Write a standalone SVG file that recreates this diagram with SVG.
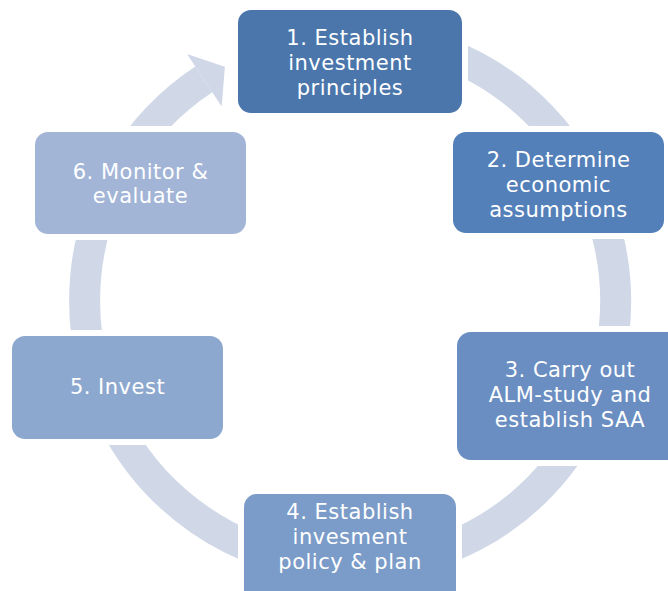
<svg xmlns="http://www.w3.org/2000/svg" width="668" height="591" viewBox="0 0 668 591">
<style>
.box{stroke:#ffffff;stroke-width:12;paint-order:stroke;}
.t{font-family:"DejaVu Sans",Verdana,sans-serif;font-size:21px;letter-spacing:0.5px;fill:#ffffff;text-anchor:middle;}
.ring{fill:none;stroke:#d0d8e8;stroke-width:31;}
</style>
<rect width="668" height="591" fill="#ffffff"/>
<g id="connectors">
<path class="ring" d="M303.9,39.5 A265.5,265.5 0 1 1 203.8,79.4"/>
<polygon points="187,53.9 224.9,66.8 221.7,106.5" fill="#d0d8e8"/>
</g>
<g id="node1">
<rect class="box" x="238" y="10" width="224" height="103" rx="13" fill="#4a76ac"/>
<text class="t" x="350" y="45">1. Establish</text>
<text class="t" x="350" y="70">investment</text>
<text class="t" x="350" y="95">principles</text>
</g>
<g id="node2">
<rect class="box" x="453" y="132" width="211" height="101" rx="13" fill="#5480b9"/>
<text class="t" x="558.5" y="166.5">2. Determine</text>
<text class="t" x="558.5" y="191.5">economic</text>
<text class="t" x="558.5" y="216.5">assumptions</text>
</g>
<g id="node3">
<rect class="box" x="457" y="332" width="230" height="128" rx="14" fill="#6a8ec1"/>
<text class="t" x="570" y="377">3. Carry out</text>
<text class="t" x="570" y="402">ALM-study and</text>
<text class="t" x="570" y="427">establish SAA</text>
</g>
<g id="node4">
<rect class="box" x="244" y="494" width="212" height="110" rx="13" fill="#7b9cc8"/>
<text class="t" x="350" y="519">4. Establish</text>
<text class="t" x="350" y="544">invesment</text>
<text class="t" x="350" y="569">policy &amp; plan</text>
</g>
<g id="node5">
<rect class="box" x="12" y="336" width="211" height="103" rx="13" fill="#8da8cf"/>
<text class="t" x="117.5" y="394">5. Invest</text>
</g>
<g id="node6">
<rect class="box" x="35" y="132" width="211" height="102" rx="13" fill="#a2b5d7"/>
<text class="t" x="140.5" y="179">6. Monitor &amp;</text>
<text class="t" x="140.5" y="203">evaluate</text>
</g>
</svg>
